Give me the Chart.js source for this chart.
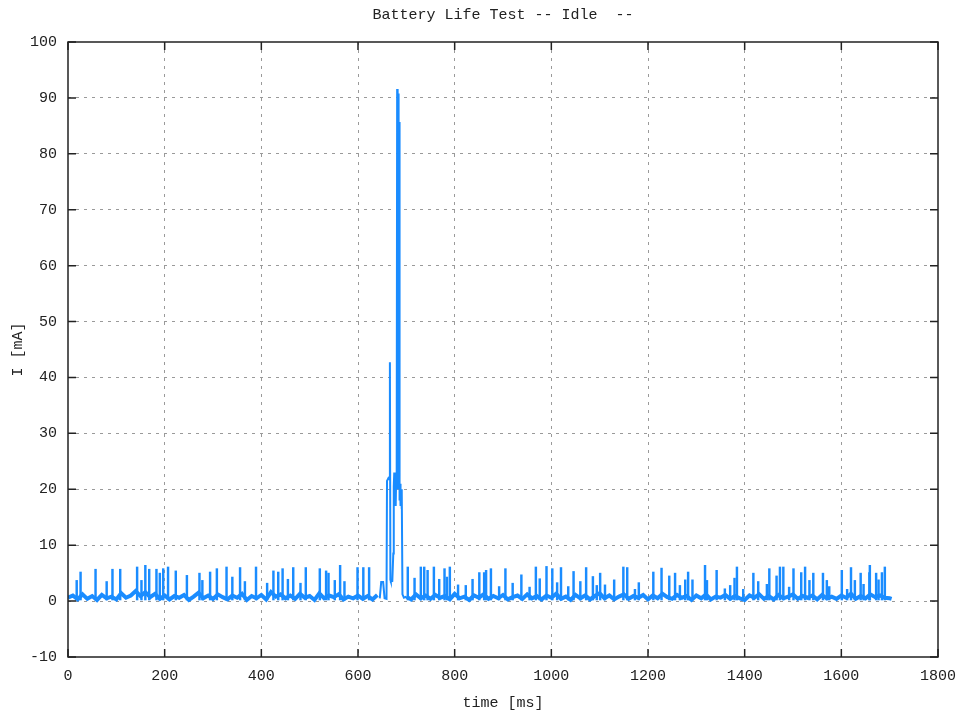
<!DOCTYPE html>
<html lang="en">
<head>
    <meta charset="UTF-8">
    <title>Battery Life Test -- Idle --</title>
    <script src="https://cdn.jsdelivr.net/npm/chart.js"></script>
    <style>
        body { margin: 0; background: #fff; }
        #wrap { width: 957px; height: 715px; }
    </style>
</head>
<body>
    <div id="wrap"><canvas id="batteryChart" width="957" height="715"></canvas></div>

    <script>
        // idle current floor, one sample every 10 ms (null = covered by the burst below)
        const baseStep = 10;
        const baseValues = [
            0.6,1.0,0.3,1.2,0.4,0.9,0.2,1.1,0.5,0.8,
            0.3,1.4,0.6,1.0,1.8,0.9,1.6,0.7,1.3,0.4,
            1.0,0.3,0.9,0.6,1.1,0.2,0.8,1.5,0.5,1.0,
            0.4,1.2,0.7,0.3,1.0,0.6,1.3,0.2,0.9,0.5,
            1.1,0.3,1.6,0.8,1.2,0.5,1.0,0.4,1.3,0.6,
            0.9,0.2,1.4,0.5,1.0,0.7,1.2,0.3,0.8,0.5,
            1.0,0.4,0.9,0.3,1.1,null,null,null,null,null,
            0.8,0.3,1.2,0.5,1.0,0.4,1.1,0.6,0.9,0.3,
            1.3,0.5,0.8,0.2,1.0,0.6,1.2,0.4,0.9,0.5,
            1.1,0.3,0.7,1.0,0.4,1.2,0.5,0.9,0.3,1.0,
            0.6,1.3,0.4,0.8,0.2,1.1,0.5,1.0,0.3,0.9,
            1.4,0.5,1.0,0.3,0.8,1.2,0.4,0.9,0.6,1.1,
            0.3,1.0,0.5,1.3,0.7,0.4,1.1,0.6,0.9,0.2,
            1.0,0.5,1.2,0.3,0.8,0.6,1.1,0.4,0.9,0.5,
            0.2,1.0,0.6,1.2,0.4,0.9,0.3,1.1,0.5,0.8,
            1.2,0.4,0.9,0.6,1.0,0.3,1.1,0.5,0.8,0.4,
            1.0,0.6,1.3,0.4,0.9,0.5,1.2,0.7,1.0,0.6,
            0.5
        ];

        // short wake-up spikes (time in ms, peak in mA)
        const spikeTimes = [
            18,26,57,80,92,108,143,152,160,168,183,190,197,207,223,246,272,278,294,308,
            328,340,356,366,389,412,425,435,444,455,466,481,492,521,534,539,552,563,572,599,
            611,623,703,717,730,737,744,757,768,779,784,790,807,823,837,851,861,865,875,892,
            905,920,938,955,968,976,990,1002,1012,1020,1035,1046,1060,1072,1086,1094,
            1101,1111,1130,1149,1157,1173,1181,1211,1228,1244,1256,1266,1277,1283,1292,
            1318,1322,1342,1359,1370,1379,1384,1397,1418,1428,1446,1451,1466,1473,1480,
            1492,1501,1517,1525,1534,1542,1562,1570,1575,1601,1612,1620,1628,1640,1646,
            1658,1659,1672,1677,1684,1690
        ];
        const spikePeaks = [
            3.7,5.2,5.7,3.5,5.7,5.7,6.1,3.7,6.4,5.7,5.7,5.0,5.8,6.1,5.4,4.6,5.0,3.7,5.2,5.8,
            6.1,4.3,6.0,3.5,6.1,3.2,5.4,5.2,5.8,3.9,6.0,3.2,6.0,5.8,5.4,5.0,3.7,6.4,3.5,6.0,
            6.0,6.0,6.1,4.1,6.1,6.1,5.5,6.1,3.9,5.8,4.3,6.1,2.9,2.8,3.9,5.1,5.1,5.5,5.8,2.6,
            5.8,3.2,4.7,2.5,6.1,4.0,6.2,5.8,3.3,6.0,2.6,5.3,3.5,6.0,4.4,2.8,
            5.0,2.9,3.8,6.1,6.0,2.1,3.3,5.2,5.9,4.5,5.0,2.8,3.8,5.2,3.8,
            6.4,3.7,5.5,2.2,2.8,4.1,6.1,2.1,5.0,3.5,3.0,5.8,4.5,6.1,6.1,
            2.5,5.8,5.1,6.1,3.7,5.0,5.0,3.7,2.6,5.5,2.1,6.0,3.7,5.0,3.0,
            5.1,6.4,5.0,3.8,5.1,6.1
        ];

        // the radio burst around 650-700 ms
        const burstTimes = [
            645,648,652,655,659,660,663,665,666,667,668,671,673,674,675,676,677,
            678,679,680,681,682,683,684,685,686,687,688,689,690,691,692,695,700
        ];
        const burstValues = [
            0.5,3.4,3.4,0.5,0.4,21.5,22,21.8,42.7,3.8,3.5,3.6,8.5,20.5,23,18,22,
            17,22,20,91.6,23,90.8,20,85.7,18,21,17,20,16.5,20,1.2,0.6,0.8
        ];

        const xTicks = [0, 200, 400, 600, 800, 1000, 1200, 1400, 1600, 1800];
        const yTicks = [-10, 0, 10, 20, 30, 40, 50, 60, 70, 80, 90, 100];

        const lineColor = '#1a8cff';
        const monoFont = "'Liberation Mono', 'DejaVu Sans Mono', monospace";

        const baseData = baseValues.map((v, i) => ({ x: i * baseStep, y: v }));
        baseData.push({ x: 1704, y: 0.4 });
        const spikeData = spikeTimes.map((t, i) => ({ x: t, y: [0.2, spikePeaks[i]] }));
        const burstData = burstTimes.map((t, i) => ({ x: t, y: burstValues[i] }));

        // gnuplot style frame with inward ticks on all four sides
        const framePlugin = {
            id: 'frame',
            afterLayout(chart) {
                // center the title over the plot box, like gnuplot does
                if (chart.titleBlock) {
                    chart.titleBlock.left = chart.chartArea.left;
                    chart.titleBlock.right = chart.chartArea.right;
                }
            },
            afterDraw(chart) {
                const { ctx, chartArea: a, scales } = chart;
                ctx.save();
                ctx.strokeStyle = '#222';
                ctx.lineWidth = 1.5;
                ctx.strokeRect(a.left, a.top, a.right - a.left, a.bottom - a.top);
                ctx.beginPath();
                yTicks.forEach(v => {
                    const y = scales.y.getPixelForValue(v);
                    ctx.moveTo(a.left, y); ctx.lineTo(a.left + 8, y);
                    ctx.moveTo(a.right, y); ctx.lineTo(a.right - 8, y);
                });
                xTicks.forEach(v => {
                    const x = scales.x.getPixelForValue(v);
                    ctx.moveTo(x, a.bottom); ctx.lineTo(x, a.bottom - 8);
                    ctx.moveTo(x, a.top); ctx.lineTo(x, a.top + 8);
                });
                ctx.stroke();
                ctx.restore();
            }
        };

        const hideEdge = (lo, hi) => c => (c.tick && (c.tick.value === lo || c.tick.value === hi)) ? 'rgba(0,0,0,0)' : '#9a9a9a';

        const ctx = document.getElementById('batteryChart').getContext('2d');
        new Chart(ctx, {
            type: 'bar',
            data: {
                datasets: [{
                    type: 'line',
                    label: 'floor',
                    data: baseData,
                    borderColor: lineColor,
                    borderWidth: 4,
                    pointRadius: 0,
                    tension: 0,
                    spanGaps: false
                }, {
                    type: 'line',
                    label: 'burst',
                    data: burstData,
                    borderColor: lineColor,
                    borderWidth: 2,
                    pointRadius: 0,
                    tension: 0
                }, {
                    type: 'bar',
                    label: 'spikes',
                    data: spikeData,
                    backgroundColor: lineColor,
                    barThickness: 1.8,
                    borderWidth: 0
                }]
            },
            options: {
                responsive: false,
                animation: false,
                layout: { padding: { right: 19 } },
                plugins: {
                    legend: { display: false },
                    tooltip: { enabled: false },
                    title: {
                        display: true,
                        text: 'Battery Life Test -- Idle  --',
                        color: '#222',
                        font: { family: monoFont, size: 15, weight: 'normal', lineHeight: 1.2 },
                        padding: { top: 6, bottom: 18 }
                    }
                },
                scales: {
                    x: {
                        type: 'linear',
                        min: 0,
                        max: 1800,
                        offset: false,
                        afterFit(scale) {
                            scale.height = 58;
                            scale.paddingLeft = 0;
                            scale.paddingRight = 0;
                        },
                        afterBuildTicks(scale) { scale.ticks = xTicks.map(v => ({ value: v })); },
                        ticks: {
                            color: '#222',
                            padding: 10,
                            maxRotation: 0,
                            font: { family: monoFont, size: 15 },
                            callback: v => String(v)
                        },
                        grid: {
                            offset: false,
                            color: hideEdge(0, 1800),
                            drawTicks: false,
                            lineWidth: 1
                        },
                        border: { display: false, dash: [3, 5] },
                        title: {
                            display: true,
                            text: 'time [ms]',
                            color: '#222',
                            font: { family: monoFont, size: 15, lineHeight: 1.2 },
                            padding: { top: 0, bottom: 3 }
                        }
                    },
                    y: {
                        min: -10,
                        max: 100,
                        afterFit(scale) { scale.width = 68; },
                        afterBuildTicks(scale) { scale.ticks = yTicks.map(v => ({ value: v })); },
                        ticks: {
                            color: '#222',
                            padding: 11,
                            font: { family: monoFont, size: 15 },
                            callback: v => String(v)
                        },
                        grid: {
                            color: hideEdge(-10, 100),
                            drawTicks: false,
                            lineWidth: 1
                        },
                        border: { display: false, dash: [3, 5] },
                        title: {
                            display: true,
                            text: 'I [mA]',
                            color: '#222',
                            font: { family: monoFont, size: 15, lineHeight: 1.2 },
                            padding: { top: 9, bottom: 0 }
                        }
                    }
                }
            },
            plugins: [framePlugin]
        });
    </script>
</body>
</html>
